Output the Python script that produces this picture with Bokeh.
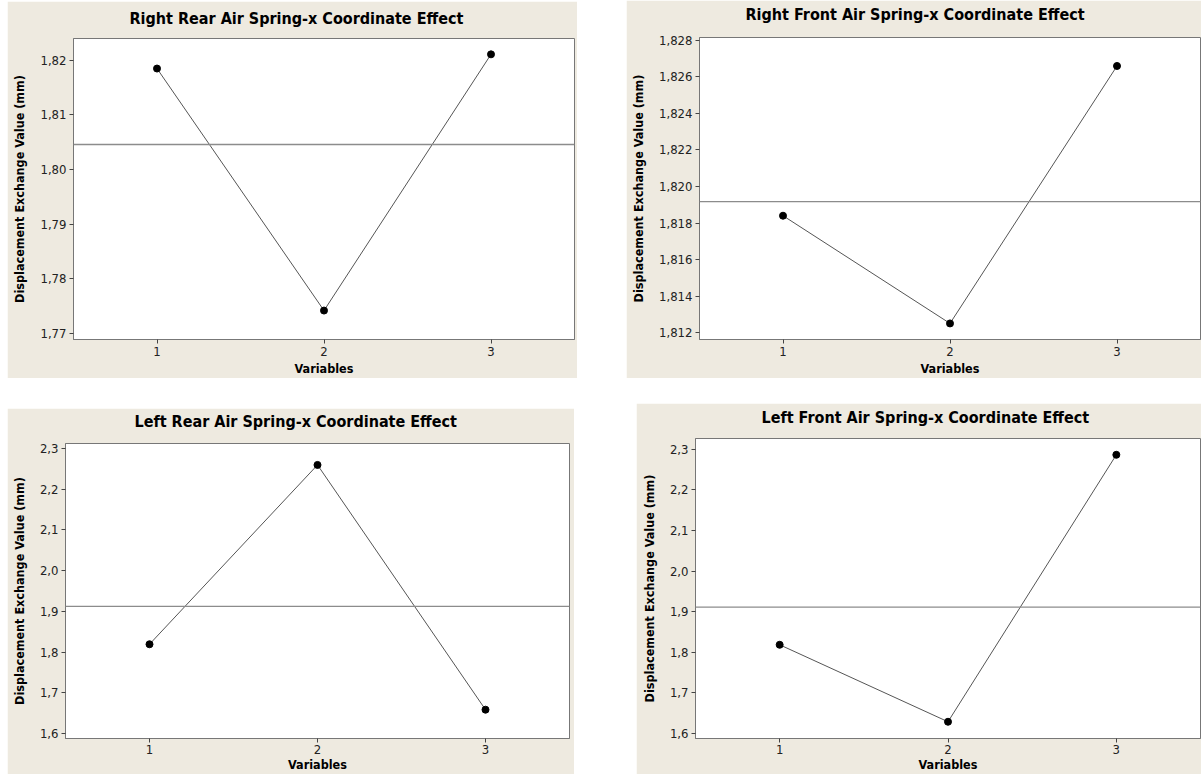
from bokeh.plotting import figure
from bokeh.models import Span, FixedTicker, CustomJSTickFormatter, Range1d, Title
from bokeh.layouts import row, column
from bokeh.embed import file_html
from bokeh.resources import INLINE

# ---- data ----
variables = [1, 2, 3]

rr_title = "Right Rear Air Spring-x Coordinate Effect"
rr_values = [1.8185, 1.7742, 1.8211]
rr_ticks = [1.77, 1.78, 1.79, 1.80, 1.81, 1.82]

rf_title = "Right Front Air Spring-x Coordinate Effect"
rf_values = [1.8184, 1.8125, 1.8266]
rf_ticks = [1.812, 1.814, 1.816, 1.818, 1.820, 1.822, 1.824, 1.826, 1.828]

lr_title = "Left Rear Air Spring-x Coordinate Effect"
lr_values = [1.8193, 2.2594, 1.6587]
lr_ticks = [1.6, 1.7, 1.8, 1.9, 2.0, 2.1, 2.2, 2.3]

lf_title = "Left Front Air Spring-x Coordinate Effect"
lf_values = [1.8180, 1.6280, 2.2868]
lf_ticks = [1.6, 1.7, 1.8, 1.9, 2.0, 2.1, 2.2, 2.3]

x_label = "Variables"
y_label = "Displacement Exchange Value (mm)"

BEIGE = "#eeeae0"
FONT = "DejaVu Sans Condensed"


def make_panel(title, values, ticks, decimals, yrange, width, height,
               borders, title_offset, title_gap, margin, compact=False):
    top, right, bottom, left = borders
    p = figure(width=width, height=height, output_backend="svg",
               toolbar_location=None, x_range=Range1d(0.5, 3.5),
               y_range=Range1d(*yrange), title=None,
               min_border_top=top, min_border_right=right,
               min_border_bottom=bottom, min_border_left=left,
               background_fill_color="white", border_fill_color=BEIGE,
               outline_line_color="#777777", outline_line_width=1)
    p.margin = margin
    # spacer between frame and title, then the title itself
    p.add_layout(Title(text=" ", text_font_size="1px", standoff=title_gap),
                 "above")
    p.add_layout(Title(text=title, align="left", offset=title_offset,
                       text_font=FONT, text_font_size="16px",
                       text_font_style="bold", text_color="black",
                       standoff=2), "above")

    p.xgrid.visible = False
    p.ygrid.visible = False

    p.xaxis.ticker = FixedTicker(ticks=variables)
    p.yaxis.ticker = FixedTicker(ticks=ticks)
    p.yaxis.formatter = CustomJSTickFormatter(
        code="return tick.toFixed(%d).replace('.', ',');" % decimals)
    p.xaxis.axis_label = x_label
    p.yaxis.axis_label = y_label
    for ax in (p.xaxis[0], p.yaxis[0]):
        ax.axis_line_color = "#777777"
        ax.major_tick_line_color = "#444444"
        ax.major_tick_out = 4
        ax.major_tick_in = 0
        ax.minor_tick_line_color = None
        ax.major_label_text_font = FONT
        ax.major_label_text_font_size = "13px"
        ax.major_label_text_color = "#222222"
        ax.major_label_standoff = 3
        ax.axis_label_text_font = FONT
        ax.axis_label_text_font_size = "12.5px"
        ax.axis_label_text_font_style = "bold"
        ax.axis_label_text_color = "black"
    p.xaxis.axis_label_standoff = 2
    p.yaxis.axis_label_standoff = 10
    if compact:
        p.xaxis.major_label_standoff = 2
        p.xaxis.axis_label_standoff = 0

    mean = sum(values) / len(values)
    p.add_layout(Span(location=mean, dimension="width",
                      line_color="#8c8c8c", line_width=1.3))
    p.line(variables, values, line_color="#555555", line_width=1)
    p.scatter(variables, values, size=7, fill_color="black",
              line_color="black")
    return p


f1 = make_panel(rr_title, rr_values, rr_ticks, 2, (1.7689, 1.8240),
                570, 377, (37, 3, 39, 66), 56, 7, (1, 0, 0, 7))
f2 = make_panel(rf_title, rf_values, rf_ticks, 3, (1.81162, 1.82816),
                575, 378, (37, 1, 38, 73), 46, 10, (0, 0, 0, 49))
f3 = make_panel(lr_title, lr_values, lr_ticks, 1, (1.588, 2.312),
                567, 366, (35, 5, 36, 58), 69, 9, (30, 0, 0, 7),
                compact=True)
f4 = make_panel(lf_title, lf_values, lf_ticks, 1, (1.5867, 2.327),
                565, 371, (35, 1, 36, 59), 66, 8, (25, 0, 0, 62),
                compact=True)

layout = column(row(f1, f2), row(f3, f4))

open("out.html", "w").write(file_html(layout, INLINE))
